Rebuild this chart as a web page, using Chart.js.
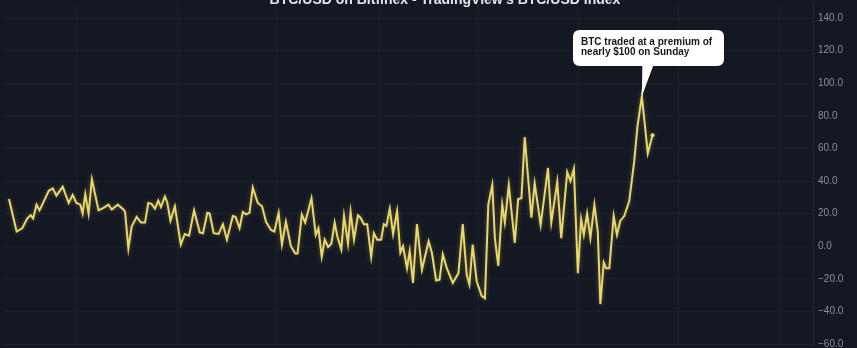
<!DOCTYPE html>
<html>
<head>
<meta charset="utf-8">
<script src="https://cdn.jsdelivr.net/npm/chart.js@4.4.1/dist/chart.umd.min.js"></script>
<style>
  html, body { margin: 0; padding: 0; background: #141823; }
  #wrap { width: 857px; height: 348px; position: relative; }
</style>
</head>
<body>
<div id="wrap"><canvas id="c" width="857" height="348"></canvas></div>
<script>
// time index (position along the period) for each vertex of the premium line
const timeIndex = [5, 12.7, 18.3, 23.3, 26.7, 29.3, 32.7, 35.7, 40, 45, 49, 52.7, 59, 65, 69, 72.7, 76.7, 79, 81.7, 85, 88.3, 95, 100, 105, 108.3, 114.3, 120, 121.7, 125, 128.3, 133.3, 137.7, 141.7, 145, 148.3, 151.7, 155, 157.7, 161.7, 164, 167.3, 171.7, 177.7, 181.7, 186, 191, 196.7, 200, 204.3, 206.7, 210.7, 215.7, 220, 224, 230, 232.7, 236.7, 240, 243.3, 246.7, 250, 255, 259.3, 263.3, 268.3, 271.7, 276, 279.3, 283.3, 288.3, 292.7, 295, 299.3, 302.7, 309, 313.3, 316, 319.3, 322.3, 325.7, 329, 332.3, 335, 339, 341.7, 345.7, 348.3, 351.7, 355.7, 358.3, 361.7, 365, 369, 371.7, 375, 379, 381.7, 384.3, 387.7, 391, 395, 398.3, 401, 405, 407.7, 411, 415, 420, 426.7, 430, 434.3, 437.7, 441, 445, 451, 456.7, 461, 465, 467.7, 471, 475, 480, 483.3, 486.7, 490.7, 493.3, 496.7, 500.7, 503.3, 507.3, 513.3, 516.7, 520, 523.3, 530, 533.3, 539.3, 546.7, 550, 556, 560, 566, 569.3, 572.7, 576.7, 580, 582.7, 586, 589.3, 593.3, 596.7, 599.3, 602.7, 605, 608.3, 612.7, 616, 619.3, 623.3, 628.3, 633.3, 636.7, 641, 647, 651.7];
// premium of BTC/USD on Bitfinex over TradingView's BTC/USD index (USD)
const premium = [29, 9, 11, 17, 19, 17, 25.5, 22, 27.5, 34, 35.5, 31, 36.5, 26.5, 31.5, 26.5, 25.5, 20, 32, 20, 41, 22, 23.5, 25.5, 22.5, 25.5, 22.5, 21, -1.5, 12, 18, 14.5, 14.5, 26.5, 26, 23, 28, 24, 30.5, 27, 15.5, 24.5, 1, 7.5, 6.5, 22, 8.5, 8, 20.5, 20, 8, 7.5, 13.5, 4, 18.5, 18, 11, 21, 19.5, 20.5, 36, 26.5, 24.5, 15, 10, 9, 20.5, 1, 15, 0, -4.5, -4.5, 19.5, 14.5, 29.5, 7, 11, -6.5, 4, -0.5, 1.5, 14.5, 6, -2, 18.5, 1.5, 21, 4, 19, 17.5, 13.5, 13.5, -6.5, 8, 4, 4, 13.5, 12.5, 23, 7.5, 21.5, -4, 0, -13.5, -3, -22.5, 13.5, -14.5, 3, -4, -21, -20.5, -5, -13.5, -22.5, -16.5, 13.5, -17.5, -23.5, 1, -21.5, -30.5, -32, 25.5, 37.5, 5, -12, 25.5, 14.5, 37.5, 2, 29, 29.5, 67, 17.5, 38.5, 13, 48, 14.5, 39.5, 5, 45.5, 40, 47.5, -16.5, 16.5, 7, 20, 5, 25.5, 9, -35.5, -10, -13.5, -13.5, 18.5, 7, 15.5, 18.5, 27.5, 52, 74, 92, 57, 68];
const yTicks = [-60, -40, -20, 0, 20, 40, 60, 80, 100, 120, 140];
const xGridAt = [73, 175, 274, 377, 476, 577, 678, 779];
const titleText = "BTC/USD on Bitfinex - TradingView's BTC/USD index";
const calloutLines = ["BTC traded at a premium of", "nearly $100 on Sunday"];
const calloutPoint = { x: 641, y: 92 };

const bgPlugin = {
  id: 'bg',
  beforeDraw(chart) {
    const ctx = chart.ctx;
    ctx.save();
    ctx.fillStyle = '#141823';
    ctx.fillRect(0, 0, chart.width, chart.height);
    ctx.restore();
  }
};

const glowPlugin = {
  id: 'glow',
  beforeDatasetDraw(chart) {
    chart.ctx.save();
    chart.ctx.shadowColor = 'rgba(240,220,110,0.35)';
    chart.ctx.shadowBlur = 4;
  },
  afterDatasetDraw(chart) { chart.ctx.restore(); }
};

function roundRect(ctx, x, y, w, h, r) {
  ctx.moveTo(x + r, y);
  ctx.lineTo(x + w - r, y);
  ctx.quadraticCurveTo(x + w, y, x + w, y + r);
  ctx.lineTo(x + w, y + h - r);
  ctx.quadraticCurveTo(x + w, y + h, x + w - r, y + h);
  ctx.lineTo(x + r, y + h);
  ctx.quadraticCurveTo(x, y + h, x, y + h - r);
  ctx.lineTo(x, y + r);
  ctx.quadraticCurveTo(x, y, x + r, y);
}

const overlayPlugin = {
  id: 'overlay',
  afterDraw(chart) {
    const ctx = chart.ctx;
    const xs = chart.scales.x, ys = chart.scales.y;
    const tipX = xs.getPixelForValue(calloutPoint.x);
    const tipY = ys.getPixelForValue(calloutPoint.y);
    ctx.save();
    // callout
    ctx.fillStyle = '#ffffff';
    ctx.beginPath();
    roundRect(ctx, 573, 30, 151, 36, 7);
    ctx.fill();
    ctx.beginPath();
    ctx.moveTo(tipX + 0.5, 64);
    ctx.lineTo(tipX + 12, 64);
    ctx.lineTo(tipX, tipY);
    ctx.closePath();
    ctx.fill();
    ctx.fillStyle = '#131722';
    ctx.font = 'bold 10px "Liberation Sans", Arial, sans-serif';
    ctx.textAlign = 'left';
    ctx.textBaseline = 'middle';
    ctx.fillText(calloutLines[0], 581, 42);
    ctx.fillText(calloutLines[1], 581, 52.5);
    // title (clipped at top)
    ctx.fillStyle = '#e3e5ea';
    ctx.font = 'bold 14px "Liberation Sans", Arial, sans-serif';
    ctx.textAlign = 'center';
    ctx.textBaseline = 'alphabetic';
    ctx.fillText(titleText, 445, 4);
    ctx.restore();
  }
};

const points = timeIndex.map((t, i) => ({ x: t, y: premium[i] }));

new Chart(document.getElementById('c'), {
  type: 'line',
  data: {
    datasets: [{
      data: points,
      borderColor: '#e9d76c',
      borderWidth: 2,
      tension: 0,
      pointRadius: points.map((p, i) => i === points.length - 1 ? 2 : 0),
      pointBackgroundColor: '#e9d76c',
      pointBorderWidth: 0
    }]
  },
  options: {
    responsive: false,
    animation: false,
    events: [],
    layout: { padding: 0 },
    plugins: { legend: { display: false }, title: { display: false }, tooltip: { enabled: false } },
    scales: {
      x: {
        type: 'linear',
        min: 0,
        max: 813,
        afterBuildTicks(scale) { scale.ticks = xGridAt.map(v => ({ value: v })); },
        afterFit(scale) { scale.height = 0; scale.paddingLeft = 0; scale.paddingRight = 0; scale.paddingTop = 0; scale.paddingBottom = 0; },
        ticks: { display: false },
        border: { display: false },
        grid: { color: 'rgba(255,255,255,0.035)', drawTicks: false, lineWidth: 1 }
      },
      y: {
        position: 'right',
        min: -60,
        max: 148.6,
        afterBuildTicks(scale) { scale.ticks = yTicks.map(v => ({ value: v })); },
        afterFit(scale) { scale.width = 44; scale.paddingTop = 0; scale.paddingBottom = 0; scale.paddingLeft = 0; scale.paddingRight = 0; },
        ticks: {
          color: '#8a8e99',
          padding: 5,
          font: { size: 10, family: '"Liberation Sans", Arial, sans-serif' },
          callback: v => (v < 0 ? '\u2212' + Math.abs(v).toFixed(1) : v.toFixed(1))
        },
        border: { display: true, color: '#262a36', width: 1 },
        grid: { color: 'rgba(255,255,255,0.035)', drawTicks: false, lineWidth: 1 }
      }
    }
  },
  plugins: [bgPlugin, glowPlugin, overlayPlugin]
});
</script>
</body>
</html>
